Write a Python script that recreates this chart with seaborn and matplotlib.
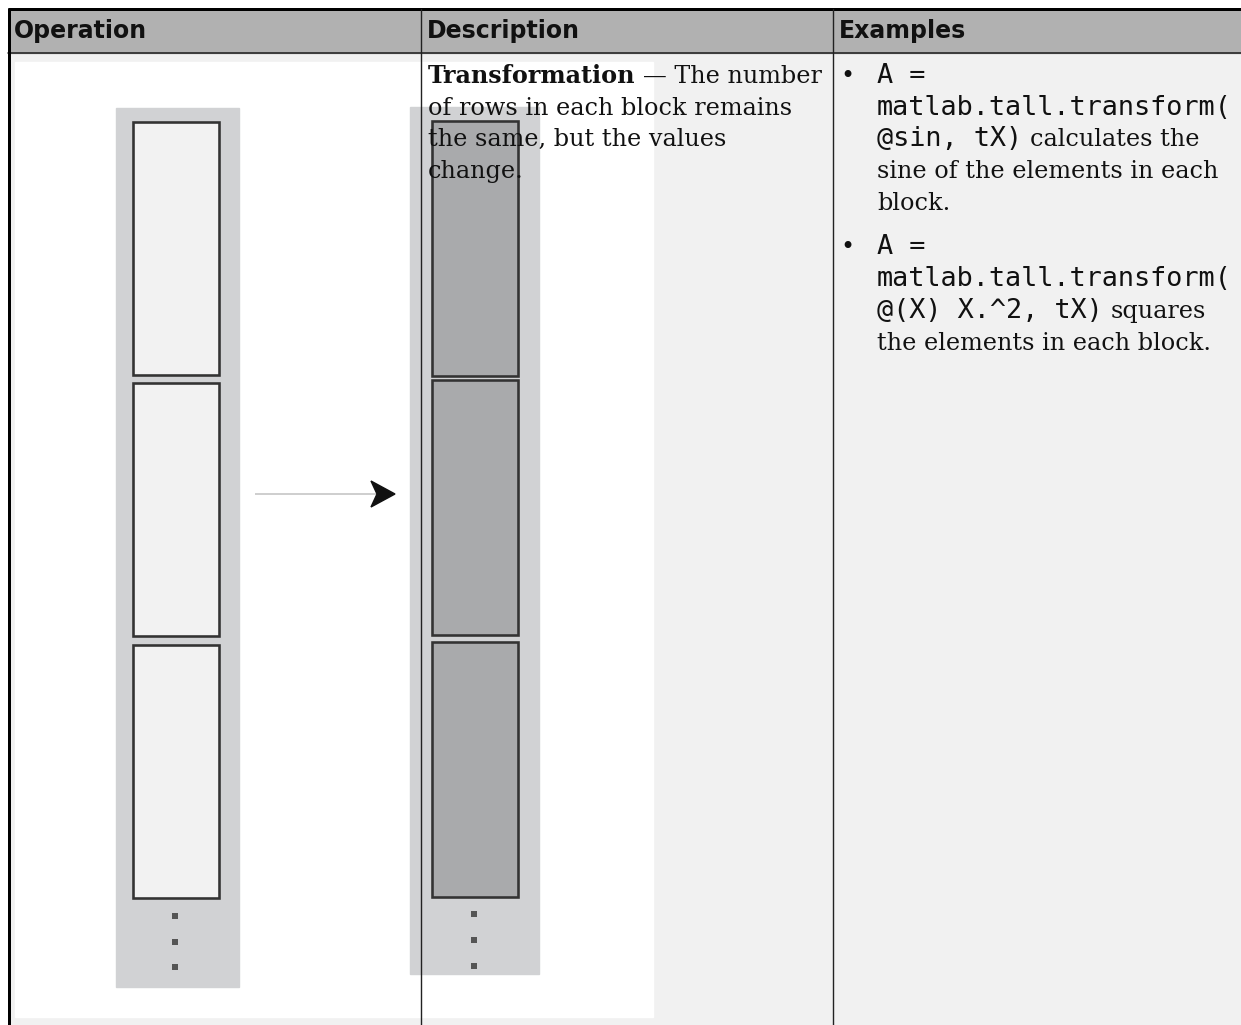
import matplotlib
matplotlib.use('Agg')
import matplotlib.pyplot as plt
from matplotlib.patches import Rectangle, Polygon
import pandas as pd
import seaborn as sns

# table text
header_labels = ["Operation", "Description", "Examples"]

description_lines = [
    [("Transformation", "serif_bold"), (" — The number", "serif")],
    [("of rows in each block remains", "serif")],
    [("the same, but the values", "serif")],
    [("change.", "serif")],
]

example_bullets = [
    [
        [("A =", "mono")],
        [("matlab.tall.transform(", "mono")],
        [("@sin, tX)", "mono"), (" calculates the", "serif")],
        [("sine of the elements in each", "serif")],
        [("block.", "serif")],
    ],
    [
        [("A =", "mono")],
        [("matlab.tall.transform(", "mono")],
        [("@(X) X.^2, tX)", "mono"), (" squares", "serif")],
        [("the elements in each block.", "serif")],
    ],
]

# diagram content: 3 blocks before and after, then "..." rows
n_blocks = 3
n_dots = 3

STYLES = {
    "header": dict(family="DejaVu Sans", fontweight="bold", fontsize=17.0),
    "serif": dict(family="DejaVu Serif", fontsize=17.2),
    "serif_bold": dict(family="DejaVu Serif", fontweight="bold", fontsize=17.2),
    "mono": dict(family="DejaVu Sans Mono", fontsize=19.4),
}

sns.set_theme(style="white")

W, H = 1241, 1025
fig = plt.figure(figsize=(W / 100, H / 100), dpi=100)
ax = fig.add_axes([0, 0, 1, 1])
ax.set_xlim(0, W)
ax.set_ylim(H, 0)
ax.axis("off")
renderer = fig.canvas.get_renderer()

PX = 0.72  # points per pixel


def text_width(s, style):
    t = ax.text(0, 0, s, **STYLES[style])
    w = t.get_window_extent(renderer=renderer).width
    t.remove()
    return w


space_w = {k: text_width("a a", k) - text_width("aa", k) for k in STYLES}


def draw_runs(x, y, runs, color="#111111"):
    for s, style in runs:
        if s.startswith(" "):
            x += space_w[style]
            s = s.lstrip(" ")
        t = ax.text(x, y, s, va="baseline", ha="left", color=color, zorder=6, **STYLES[style])
        x += t.get_window_extent(renderer=renderer).width
    return x


# table background
ax.add_patch(Rectangle((9, 53), W - 9, H - 53, color="#f1f1f1", zorder=0))
ax.add_patch(Rectangle((9, 9), W - 9, 44, color="#b1b1b1", zorder=0))

# illustration area (white picture under the first two columns)
ax.add_patch(Rectangle((15, 62), 638, 955, color="white", zorder=1))

# left stack: original blocks
ax.add_patch(Rectangle((116, 108), 123, 879, color="#d1d2d4", zorder=2))
left_tops = [122, 383, 645]
for top in left_tops[:n_blocks]:
    ax.add_patch(Rectangle((133, top), 86, 253, facecolor="#f2f2f2",
                           edgecolor="#333333", lw=2.6 * PX, zorder=3))

# right stack: transformed blocks
ax.add_patch(Rectangle((410, 107), 129, 867, color="#d1d2d4", zorder=2))
right_tops = [121, 380, 642]
for top in right_tops[:n_blocks]:
    ax.add_patch(Rectangle((432, top), 86, 255, facecolor="#a9aaac",
                           edgecolor="#333333", lw=2.6 * PX, zorder=3))

# ellipsis dots
dots = pd.DataFrame({
    "x": [175] * n_dots + [474] * n_dots,
    "y": [916, 942, 967] + [914, 940, 966],
})
sns.scatterplot(data=dots, x="x", y="y", ax=ax, color="#555555", marker="s",
                s=14, linewidth=0, zorder=4, legend=False)
ax.set_xlim(0, W)
ax.set_ylim(H, 0)
ax.axis("off")

# arrow
ax.plot([255, 378], [494, 494], color="#c4c4c4", lw=1.6 * PX, zorder=3,
        solid_capstyle="butt")
ax.add_patch(Polygon([(395, 494), (371, 481), (377, 494), (371, 507)],
                     closed=True, color="#111111", zorder=4))

# grid lines
ax.plot([8, W], [9, 9], color="black", lw=3 * PX, zorder=7, solid_capstyle="butt")
ax.plot([8, W], [53, 53], color="#222222", lw=1.6 * PX, zorder=7)
ax.plot([9, 9], [8, H], color="black", lw=3 * PX, zorder=7, solid_capstyle="butt")
for cx in (421, 833):
    ax.plot([cx, cx], [9, H], color="#222222", lw=1.4 * PX, zorder=7)

# header labels
for x0, lab in zip((14, 427, 839), header_labels):
    ax.text(x0, 38, lab, va="baseline", ha="left", color="#111111", zorder=8,
            **STYLES["header"])

# description column
line_h = 31.7
y = 83
for runs in description_lines:
    draw_runs(428, y, runs)
    y += line_h

# examples column
y = 83
for bullet in example_bullets:
    ax.text(840, y, "•", va="baseline", ha="left", color="#111111", zorder=6,
            **STYLES["serif"])
    for runs in bullet:
        draw_runs(877, y, runs)
        y += line_h
    y += 13

fig.savefig("out.png", dpi=100)
